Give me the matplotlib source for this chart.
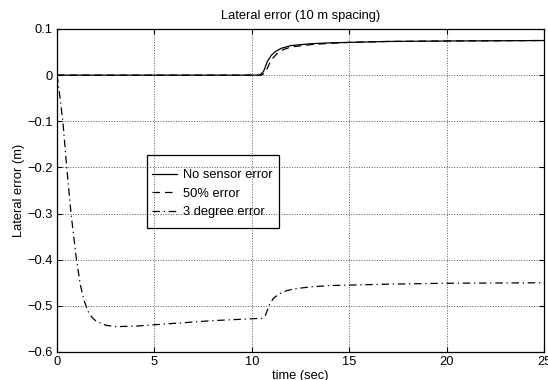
import matplotlib.pyplot as plt
from matplotlib.patches import Rectangle

# datos
t_nominal = [0, 10.4, 10.6, 10.8, 11.0, 11.2, 11.5, 12, 13, 14, 15, 17, 20, 25]
e_nominal = [0, 0, 0.008, 0.030, 0.043, 0.051, 0.058, 0.064, 0.068, 0.070, 0.071, 0.073, 0.074, 0.075]

t_50 = [0, 10.5, 10.7, 10.9, 11.1, 11.3, 11.6, 12, 13, 14, 15, 17, 20, 25]
e_50 = [0, 0, 0.006, 0.025, 0.038, 0.047, 0.055, 0.061, 0.066, 0.069, 0.071, 0.073, 0.074, 0.075]

t_3deg = [0, 0.1, 0.3, 0.5, 0.72, 1.0, 1.2, 1.4, 1.6, 1.8, 2.0, 2.5, 3.0, 4, 5, 6, 7, 8, 9, 10,
          10.5, 10.7, 10.9, 11.1, 11.4, 11.8, 12.2, 13, 14, 15, 17, 20, 25]
e_3deg = [0, -0.03, -0.1, -0.2, -0.3, -0.4, -0.455, -0.49, -0.512, -0.525, -0.533, -0.542, -0.545,
          -0.544, -0.541, -0.538, -0.535, -0.532, -0.530, -0.528, -0.527, -0.520, -0.498, -0.484,
          -0.474, -0.467, -0.463, -0.459, -0.456, -0.455, -0.453, -0.451, -0.450]

labels = ["No sensor error", "50% error", "3 degree error"]
x_ticks = [0, 5, 10, 15, 20, 25]
y_ticks = [-0.6, -0.5, -0.4, -0.3, -0.2, -0.1, 0, 0.1]

plt.rcParams['font.family'] = ['Liberation Sans', 'DejaVu Sans']
plt.rcParams['font.size'] = 9.3

fig = plt.figure(figsize=(5.48, 3.80), dpi=100)
ax = fig.add_axes([0.104, 0.0737, 0.889, 0.85])

ax.plot(t_nominal, e_nominal, color='black', linestyle='-', linewidth=0.9, label=labels[0])
ax.plot(t_50, e_50, color='black', linestyle=(0, (6, 4)), linewidth=0.9, label=labels[1])
ax.plot(t_3deg, e_3deg, color='black', linestyle=(0, (6, 3, 1, 3)), linewidth=0.9, label=labels[2])

ax.set_xlim(0, 25)
ax.set_ylim(-0.6, 0.1)
ax.set_xticks(x_ticks)
ax.set_yticks(y_ticks)
ax.set_yticklabels(["\u22120.6", "\u22120.5", "\u22120.4", "\u22120.3", "\u22120.2", "\u22120.1", "0", "0.1"])
ax.tick_params(direction='in', top=True, right=True, length=3.5, width=0.8, pad=3)
ax.grid(True, linestyle=':', color='0.35', linewidth=0.7)
for s in ax.spines.values():
    s.set_linewidth(0.9)

ax.set_title("Lateral error (10 m spacing)", fontsize=9.3, pad=7)
ax.set_xlabel("time (sec)", labelpad=1)
ax.set_ylabel("Lateral error (m)", labelpad=2)

# caja de la leyenda (transparente, como en el original)
ax.add_patch(Rectangle((0.185, 0.384), 0.271, 0.226, transform=ax.transAxes,
                       fill=False, edgecolor='black', linewidth=0.9, zorder=5))
ax.legend(loc='center left', bbox_to_anchor=(0.195, 0.49), frameon=False,
          handlelength=1.9, handletextpad=0.5, borderaxespad=0, borderpad=0,
          labelspacing=0.5)

fig.savefig("out.png", dpi=100)
